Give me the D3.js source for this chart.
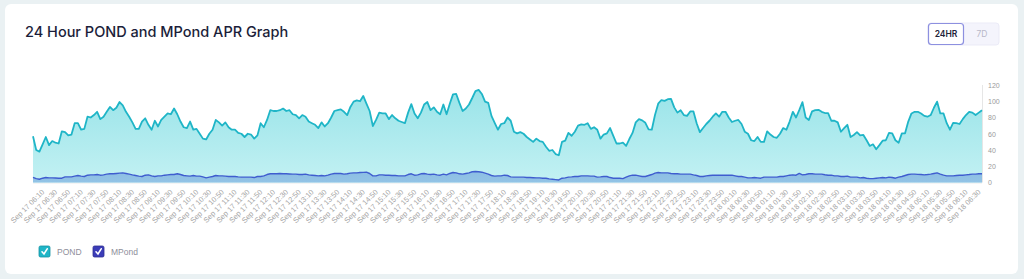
<!DOCTYPE html>
<html><head><meta charset="utf-8">
<script src="https://cdn.jsdelivr.net/npm/d3@7"></script>
<style>
html,body{margin:0;padding:0;background:#eaf1f3;}
svg{display:block;}
</style></head><body>
<svg id="c" width="1024" height="279"></svg>
<script>
const titleText = "24 Hour POND and MPond APR Graph";
const seriesNames = ["POND", "MPond"];
const rangeButtons = ["24HR", "7D"];
const startTime = "2021 Sep 17 06:00";
const stepMinutes = 5;

const pond = [
57,40,38,47,56,46,51,49,48,63,
62,58,59,73,73,65,66,81,80,83,
87,78,81,87,93,89,92,99,95,87,
81,74,66,66,75,79,71,65,76,69,
77,81,85,84,91,84,75,68,67,75,
65,66,60,54,53,60,65,77,74,70,
74,68,65,65,61,60,56,60,59,54,
58,73,68,77,89,88,88,89,91,88,
89,84,83,79,83,81,75,73,71,67,
74,69,73,80,88,89,90,87,83,
93,99.5,101,100,106.5,97,88,69.5,77,86,
85,85,78,83,79,76,74.5,73,86,96.5,
85,79,86,96,99,89,92.5,87,84,96,
84,97,108.5,109,98,88,91,96,104,112.5,
114,109,99.5,98,82,73.5,65,72,73,80,
76,62.5,60.5,62,60,56,53,50,54,51,
50,44,39,40,35,33.5,50,51.5,61,57.5,
62.5,70,71.5,71,73,66,68,65,54,59,
60.5,67,57.5,48,48,49,45,53.5,61,74,
78,76.5,73.5,65.5,65,83,97,
101.5,100.5,102.5,103,92.5,86,89,83,82,87.5,
87.5,73,62,67,72,76,81,85,81,87,
87,80,74.5,76,77,72,62.5,60,52,51,
56,50,50,63,59,56,55,60,67,65,
75,87,80,89,99,80,77,87.5,89,89.5,
87,85.5,85.5,76,76,74,62.5,67,71,56,
58.5,62,58,58.5,52,45,47,41,46,51.5,
52,61,60.5,52,49,60.5,60.5,75,85,87,
87,85,82,81,83,92,99.5,85,85,73,
65,73.5,73,72,78,83,87,86,83,86,
89
];

const mpond = [
6.4,4.8,4.0,5.3,6.1,5.7,5.7,5.5,5.3,5.3,
6.9,6.9,6.9,7.8,8.6,7.8,7.4,9.0,9.4,9.4,
9.8,9.0,9.4,10.3,10.7,10.7,11.1,11.5,11.9,11.1,
10.3,9.4,8.6,7.8,7.4,9.0,9.4,8.2,7.4,8.2,
8.2,9.0,9.4,9.8,9.8,10.7,9.8,8.6,8.2,7.8,
8.6,7.8,7.8,6.9,5.7,6.6,7.4,8.6,8.2,8.2,
7.8,7.4,7.4,7.4,6.9,6.6,6.6,6.6,6.6,6.1,
7.4,7.4,8.2,9.8,10.7,10.7,10.7,11.1,10.7,10.7,
10.5,10.3,10.3,9.8,9.8,10.3,9.4,9.0,8.6,8.2,
8.6,8.2,9.0,10.3,11.1,11.1,11.1,10.3,10.7,
11.5,11.9,11.9,12.3,12.5,12.7,11.1,8.2,8.2,9.4,
9.4,9.0,9.0,8.6,8.6,8.2,8.2,8.2,9.8,10.7,
9.0,9.4,10.7,11.1,10.3,9.8,10.3,9.4,9.0,10.3,
9.4,11.1,12.3,11.9,10.7,10.3,11.1,11.9,13.2,13.5,
13.2,12.7,11.5,10.3,8.6,7.8,8.2,8.2,9.0,8.6,
6.9,6.6,6.6,6.6,6.6,6.1,6.1,5.9,5.7,5.7,
5.3,5.3,4.4,4.0,3.6,3.1,5.3,5.7,6.6,6.9,
7.4,7.4,8.2,8.2,8.2,7.8,7.8,6.6,6.9,7.4,
7.4,6.1,5.3,5.3,5.3,4.8,6.6,8.2,9.0,9.0,
8.2,7.4,7.4,8.6,9.8,11.5,12.3,
11.9,11.9,11.9,11.1,10.7,10.7,10.3,10.3,10.3,10.3,
9.4,8.6,7.4,7.4,8.2,8.6,9.0,9.0,9.0,9.0,
9.0,9.0,9.0,8.2,7.4,7.4,6.6,5.7,5.7,6.1,
5.7,5.3,6.6,6.6,6.6,6.6,6.6,7.4,7.4,8.2,
9.0,9.4,9.0,11.1,9.4,9.8,10.7,10.7,10.3,10.3,
10.3,9.6,9.0,9.0,8.2,8.2,7.4,7.4,7.8,6.6,
6.6,6.6,5.7,6.1,5.3,4.8,4.8,5.3,5.7,6.1,
5.7,6.6,6.1,5.3,6.6,7.4,8.6,9.8,10.3,10.3,
10.0,9.8,9.4,9.8,10.3,11.1,11.9,10.3,9.0,8.2,
8.2,8.2,8.6,9.0,9.0,9.4,9.8,10.3,10.3,10.7,
10.7
];

const yTicks = [0, 20, 40, 60, 80, 100, 120];

const xTickLabels = [
"Sep 17 06:10","Sep 17 06:30","Sep 17 06:50","Sep 17 07:10","Sep 17 07:30","Sep 17 07:50",
"Sep 17 08:10","Sep 17 08:30","Sep 17 08:50","Sep 17 09:10","Sep 17 09:30","Sep 17 09:50",
"Sep 17 10:10","Sep 17 10:30","Sep 17 10:50","Sep 17 11:10","Sep 17 11:30","Sep 17 11:50",
"Sep 17 12:10","Sep 17 12:30","Sep 17 12:50","Sep 17 13:10","Sep 17 13:30","Sep 17 13:50",
"Sep 17 14:10","Sep 17 14:30","Sep 17 14:50","Sep 17 15:10","Sep 17 15:30","Sep 17 15:50",
"Sep 17 16:10","Sep 17 16:30","Sep 17 16:50","Sep 17 17:10","Sep 17 17:30","Sep 17 17:50",
"Sep 17 18:10","Sep 17 18:30","Sep 17 18:50","Sep 17 19:10","Sep 17 19:30","Sep 17 19:50",
"Sep 17 20:10","Sep 17 20:30","Sep 17 20:50","Sep 17 21:10","Sep 17 21:30","Sep 17 21:50",
"Sep 17 22:10","Sep 17 22:30","Sep 17 22:50","Sep 17 23:10","Sep 17 23:30","Sep 17 23:50",
"Sep 18 00:10","Sep 18 00:30","Sep 18 00:50","Sep 18 01:10","Sep 18 01:30","Sep 18 01:50",
"Sep 18 02:10","Sep 18 02:30","Sep 18 02:50","Sep 18 03:10","Sep 18 03:30","Sep 18 03:50",
"Sep 18 04:10","Sep 18 04:30","Sep 18 04:50","Sep 18 05:10","Sep 18 05:30","Sep 18 05:50",
"Sep 18 06:10","Sep 18 06:30"
];

const parse = d3.timeParse("%Y %b %d %H:%M");
const t0 = parse(startTime);
const times = pond.map((_, i) => d3.timeMinute.offset(t0, i * stepMinutes));
const data = times.map((t, i) => ({ t, pond: pond[i], mpond: mpond[i] }));
const tickDates = xTickLabels.map(l => parse("2021 " + l));
const labelOf = new Map(tickDates.map((d, i) => [+d, xTickLabels[i]]));

const svg = d3.select("#c");
const defs = svg.append("defs");

// card
svg.append("rect").attr("x", 5).attr("y", 4).attr("width", 1013).attr("height", 270)
  .attr("rx", 6).attr("fill", "#ffffff");

// title
svg.append("text").attr("x", 25).attr("y", 37)
  .attr("font-family", "Inter, 'Open Sans', sans-serif").attr("font-size", 14.5)
  .attr("font-weight", 500).attr("fill", "#1b1e3a").text(titleText);

// range buttons
const bx = d3.scaleBand().domain(rangeButtons).range([928, 1000]).padding(0);
svg.append("rect").attr("x", 928).attr("y", 23).attr("width", 71).attr("height", 22)
  .attr("rx", 3).attr("fill", "#f4f4fc").attr("stroke", "#ebebf7");
const btn = svg.selectAll("g.btn").data(rangeButtons).join("g").attr("class", "btn");
btn.append("rect").attr("x", d => bx(d) + 0.5).attr("y", 23.5)
  .attr("width", bx.bandwidth() - 1).attr("height", 21).attr("rx", 3)
  .attr("fill", (d, i) => i === 0 ? "#ffffff" : "none")
  .attr("stroke", (d, i) => i === 0 ? "#8d90e0" : "none").attr("stroke-width", 1.2);
btn.append("text").attr("x", d => bx(d) + bx.bandwidth() / 2).attr("y", 37)
  .attr("text-anchor", "middle").attr("font-family", "Inter, sans-serif")
  .attr("font-size", 8.5).attr("font-weight", (d, i) => i === 0 ? 600 : 400)
  .attr("fill", (d, i) => i === 0 ? "#23243a" : "#b8b8c8").text(d => d);

// scales
const x = d3.scaleTime().domain([times[0], times[times.length - 1]]).range([33, 982]);
const y = d3.scaleLinear().domain([0, 120]).range([182.5, 85]);

// gradients
const g1 = defs.append("linearGradient").attr("id", "gp").attr("gradientUnits", "userSpaceOnUse")
  .attr("x1", 0).attr("x2", 0).attr("y1", y(120)).attr("y2", y(0));
g1.append("stop").attr("offset", 0).attr("stop-color", "#97e3e8");
g1.append("stop").attr("offset", 1).attr("stop-color", "#c3f1f3");
const g2 = defs.append("linearGradient").attr("id", "gm").attr("gradientUnits", "userSpaceOnUse")
  .attr("x1", 0).attr("x2", 0).attr("y1", y(15)).attr("y2", y(0));
g2.append("stop").attr("offset", 0).attr("stop-color", "#8bbde3");
g2.append("stop").attr("offset", 1).attr("stop-color", "#93c4e6");

// grid / axis lines
svg.append("line").attr("x1", 982.5).attr("x2", 982.5).attr("y1", y(120)).attr("y2", y(0))
  .attr("stroke", "#e6e6e6");
svg.append("line").attr("x1", 33).attr("x2", 982).attr("y1", y(0) + 0.5).attr("y2", y(0) + 0.5)
  .attr("stroke", "#ececec");

const areaP = d3.area().x(d => x(d.t)).y0(y(0)).y1(d => y(d.pond));
const areaM = d3.area().x(d => x(d.t)).y0(y(0)).y1(d => y(d.mpond));
const lineP = d3.line().x(d => x(d.t)).y(d => y(d.pond));
const lineM = d3.line().x(d => x(d.t)).y(d => y(d.mpond));

svg.append("path").datum(data).attr("d", areaP).attr("fill", "url(#gp)");
svg.append("path").datum(data).attr("d", areaM).attr("fill", "url(#gm)");
svg.append("path").datum(data).attr("d", lineP).attr("fill", "none")
  .attr("stroke", "#1fb5c7").attr("stroke-width", 1.8).attr("stroke-linejoin", "round");
svg.append("path").datum(data).attr("d", lineM).attr("fill", "none")
  .attr("stroke", "#3f5dcf").attr("stroke-width", 1.4).attr("stroke-linejoin", "round");

// y axis (right)
const yAxis = svg.append("g").attr("transform", "translate(986,0)")
  .call(d3.axisRight(y).tickValues(yTicks).tickSize(0).tickPadding(2));
yAxis.select(".domain").remove();
yAxis.selectAll("text").attr("font-family", "'Liberation Sans', Arial, sans-serif")
  .attr("font-size", 7).attr("fill", "#9a9a9a");

// x axis
const xAxis = svg.append("g").attr("transform", `translate(0,${y(0)})`)
  .call(d3.axisBottom(x).tickValues(tickDates).tickFormat(d => labelOf.get(+d)).tickSize(0));
xAxis.select(".domain").remove();
xAxis.selectAll("text")
  .attr("font-family", "'Liberation Sans', Arial, sans-serif").attr("font-size", 7.4)
  .attr("fill", "#a3a3a3").attr("text-anchor", "end")
  .attr("dy", 0).attr("y", 0)
  .attr("transform", "translate(5,10) rotate(-45)");

// legend
const legColors = ["#1fb5c7", "#3b3cb8"];
const lx = d3.scalePoint().domain(seriesNames).range([39, 93]);
const leg = svg.selectAll("g.leg").data(seriesNames).join("g").attr("class", "leg")
  .attr("transform", d => `translate(${lx(d)},246)`);
leg.append("rect").attr("width", 11).attr("height", 11).attr("rx", 1.5)
  .attr("fill", (d, i) => legColors[i]).attr("stroke", (d, i) => i === 0 ? "#1593a3" : "#2e2f90")
  .attr("stroke-width", 0.8);
leg.append("path").attr("d", "M3,5.8 L5,8 L8.2,2.8").attr("fill", "none")
  .attr("stroke", "#fff").attr("stroke-width", 1.6).attr("stroke-linecap", "round");
leg.append("text").attr("x", 18).attr("y", 8.8)
  .attr("font-family", "'Liberation Sans', Arial, sans-serif").attr("font-size", 8.5)
  .attr("fill", "#8e8e9a").text(d => d);
</script>
</body></html>
